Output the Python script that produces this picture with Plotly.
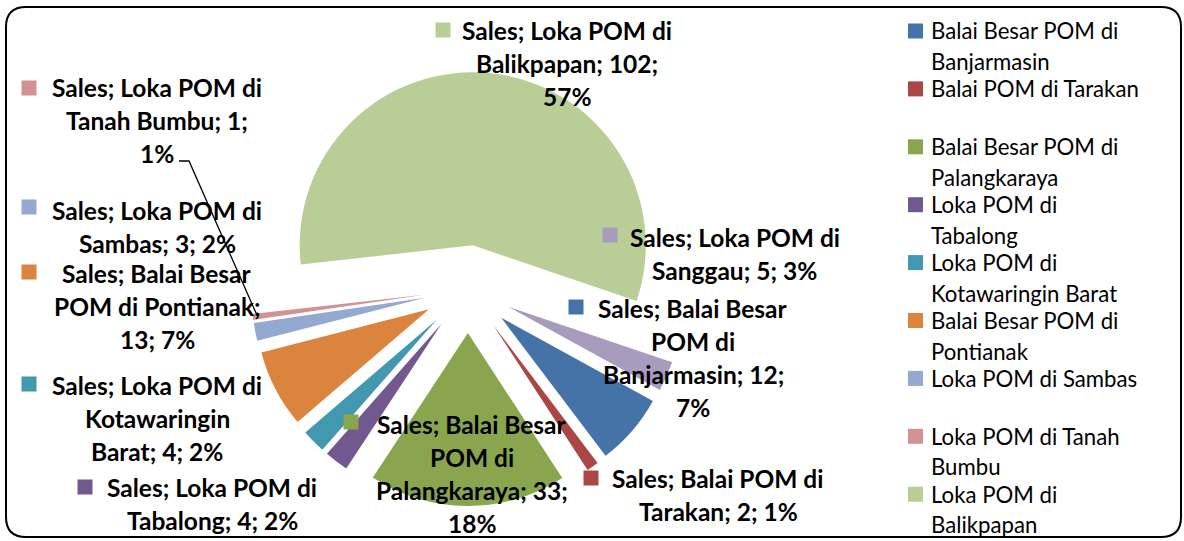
import plotly.graph_objects as go

# ---------------- data ----------------
series_name = "Sales"
categories = [
    "Balai Besar POM di Banjarmasin",
    "Balai POM di Tarakan",
    "Balai Besar POM di Palangkaraya",
    "Loka POM di Tabalong",
    "Loka POM di Kotawaringin Barat",
    "Balai Besar POM di Pontianak",
    "Loka POM di Sambas",
    "Loka POM di Tanah Bumbu",
    "Loka POM di Balikpapan",
    "Loka POM di Sanggau",
]
values = [12, 2, 33, 4, 4, 13, 3, 1, 102, 5]
colors = ["#4572A7", "#AA4643", "#89A54E", "#71588F", "#4198AF",
          "#DB843D", "#93A9CF", "#D19392", "#B9CD96", "#A99BBD"]
legend_visible = 9  # the last category is cut off from the legend

# ---------------- layout helpers ----------------
W, H = 1184, 541
FONT = "Lato"


def px(x):
    return x / W


def py(y):
    return 1 - y / H


def split_words(text, counts):
    words = text.split(" ")
    lines, i = [], 0
    for c in counts:
        lines.append(" ".join(words[i:i + c]))
        i += c
    if i < len(words):
        lines.append(" ".join(words[i:]))
    return [l for l in lines if l]


total = sum(values)
pcts = [round(v / total * 100) for v in values]

fig = go.Figure(go.Pie(
    labels=categories,
    values=values,
    sort=False,
    direction="clockwise",
    rotation=118.8,
    pull=0.254,
    marker=dict(colors=colors, line=dict(width=0)),
    textinfo="none",
    hovertemplate=series_name + "; %{label}; %{value}; %{percent}<extra></extra>",
    showlegend=False,
    domain=dict(x=[px(251), px(685)], y=[py(506), py(72)]),
))

annotations = []
shapes = []

# data labels: (words per line, center x, first line y, marker x, marker y)
label_layout = {
    "Balai Besar POM di Banjarmasin": ([3, 2, 2, 1], 693, 308, 576, 307),
    "Balai POM di Tarakan": ([4, 3], 718, 478, 591, 478),
    "Balai Besar POM di Palangkaraya": ([3, 2, 2, 1], 472, 424, 351, 422),
    "Loka POM di Tabalong": ([4, 3], 212, 487, 85, 487),
    "Loka POM di Kotawaringin Barat": ([4, 1, 3], 157, 385, 29, 384),
    "Balai Besar POM di Pontianak": ([3, 3, 2], 157, 273, 29, 272),
    "Loka POM di Sambas": ([4, 3], 157, 210, 29, 207),
    "Loka POM di Tanah Bumbu": ([4, 3, 1], 157, 87, 29, 88),
    "Loka POM di Balikpapan": ([4, 2, 1], 567, 30, 443, 30),
    "Loka POM di Sanggau": ([4, 3], 735, 237, 610, 235),
}
LINE_H = 33
MK = 7.5
for cat, val, pct, col in zip(categories, values, pcts, colors):
    counts, cx, y0, mx, my = label_layout[cat]
    text = f"{series_name}; {cat}; {val}; {pct}%"
    for k, line in enumerate(split_words(text, counts)):
        annotations.append(dict(
            x=px(cx), y=py(y0 + k * LINE_H), xref="paper", yref="paper",
            text=f"<b>{line}</b>", showarrow=False, xanchor="center", yanchor="middle",
            borderpad=0, font=dict(family=FONT, size=24.5, color="#000000"),
        ))
    shapes.append(dict(type="rect", xref="paper", yref="paper",
                       x0=px(mx - MK), x1=px(mx + MK), y0=py(my + MK), y1=py(my - MK),
                       fillcolor=col, line=dict(width=0)))

# leader line for the smallest slice label
shapes.append(dict(type="path", xref="paper", yref="paper",
                   path=f"M {px(179)},{py(161)} L {px(189)},{py(161)} L {px(256)},{py(313)}",
                   line=dict(color="#000000", width=1.3)))

# legend (drawn manually, Excel-like spacing)
legend_words = [4, 5, 4, 3, 3, 4, 4, 4, 3]
LEG_Y0, LEG_STEP, LEG_LINE = 31, 57.9, 30.5
for i in range(legend_visible):
    cat = categories[i]
    y = LEG_Y0 + i * LEG_STEP
    shapes.append(dict(type="rect", xref="paper", yref="paper",
                       x0=px(908), x1=px(923), y0=py(y + 7.5), y1=py(y - 7.5),
                       fillcolor=colors[i], line=dict(width=0)))
    for k, line in enumerate(split_words(cat, [legend_words[i]])):
        annotations.append(dict(
            x=px(930), y=py(y + k * LEG_LINE), xref="paper", yref="paper",
            text=line, showarrow=False, xanchor="left", yanchor="middle",
            borderpad=0, font=dict(family=FONT, size=22.2, color="#000000"),
        ))

# rounded chart border
L, T, R, B, rad = 6, 7, 1181, 537, 20
rx, ry = rad / W, rad / H
x0, x1, y0, y1 = px(L), px(R), py(B), py(T)
border = (f"M {x0 + rx},{y1} L {x1 - rx},{y1} Q {x1},{y1} {x1},{y1 - ry} "
          f"L {x1},{y0 + ry} Q {x1},{y0} {x1 - rx},{y0} "
          f"L {x0 + rx},{y0} Q {x0},{y0} {x0},{y0 + ry} "
          f"L {x0},{y1 - ry} Q {x0},{y1} {x0 + rx},{y1} Z")
shapes.append(dict(type="path", xref="paper", yref="paper", path=border,
                   line=dict(color="#000000", width=2)))

fig.update_layout(
    width=W, height=H,
    margin=dict(l=0, r=0, t=0, b=0),
    paper_bgcolor="#FFFFFF", plot_bgcolor="#FFFFFF",
    annotations=annotations, shapes=shapes,
    font=dict(family=FONT),
)

fig.write_html("out.html", config={"displayModeBar": False},
               post_script="document.body.style.margin='0';")
